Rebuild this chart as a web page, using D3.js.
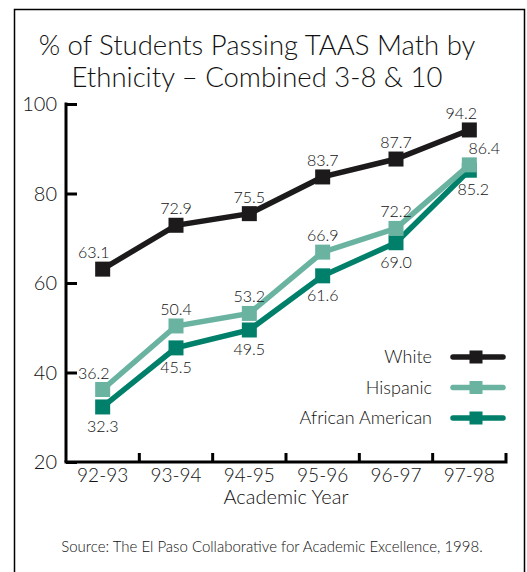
<!DOCTYPE html>
<html><head><meta charset="utf-8">
<script src="https://cdn.jsdelivr.net/npm/d3@7"></script>
<style>
html,body{margin:0;padding:0;background:#fff;}
text{font-family:"Lato","Open Sans",sans-serif;font-weight:300;}
</style></head>
<body>
<script>
const years = ["92-93","93-94","94-95","95-96","96-97","97-98"];
const white = [63.1,72.9,75.5,83.7,87.7,94.2];
const hispanic = [36.2,50.4,53.2,66.9,72.2,86.4];
const africanAmerican = [32.3,45.5,49.5,61.6,69.0,85.2];
const yTicks = [20,40,60,80,100];
const seriesNames = ["White","Hispanic","African American"];
const seriesColors = ["#1c1a1a","#6bb3a1","#00806a"];

const W=527,H=572;
const svg=d3.select("body").append("svg").attr("width",W).attr("height",H);

// frame
svg.append("path").attr("d","M14.5,"+(H+2)+"V9.5H524.5V"+(H+2)).attr("fill","none").attr("stroke","#000").attr("stroke-width",1.5);

// title
svg.append("text").attr("x",257).attr("y",55).attr("text-anchor","middle").attr("font-size",27.5).attr("fill","#111").text("% of Students Passing TAAS Math by");
svg.append("text").attr("x",257).attr("y",87).attr("text-anchor","middle").attr("font-size",27.5).attr("fill","#111").text("Ethnicity \u2013 Combined 3-8 & 10");

const x0=66,x1=506,yTop=104,yBot=462;
const x=d3.scaleBand().domain(years).range([x0,x1]);
const y=d3.scaleLinear().domain([20,100]).range([yBot,yTop]);
const cx=d=>x(d)+x.bandwidth()/2;

// y axis
const yAx=svg.append("g").attr("transform","translate("+x0+",0)")
  .call(d3.axisRight(y).tickValues(yTicks).tickSize(11).tickFormat(""));
yAx.select(".domain").attr("stroke","#000").attr("stroke-width",3).attr("d","M0,"+yBot+"V"+(yTop-1.5));
yAx.selectAll(".tick line").attr("stroke","#000").attr("stroke-width",3);
svg.selectAll(".ylab").data(yTicks).enter().append("text")
  .attr("x",57).attr("y",d=>y(d)+7).attr("text-anchor","end").attr("font-size",20).attr("fill","#111").text(d=>d);

// x axis
const xAx=svg.append("g").attr("transform","translate(0,"+yBot+")")
  .call(d3.axisTop(x).tickSize(0).tickFormat(""));
xAx.select(".domain").attr("stroke","#000").attr("stroke-width",3).attr("d","M"+(x0-1.5)+",0H"+x1+"V-9");
xAx.selectAll(".tick line").remove();
years.slice(1).forEach(d=>{
  svg.append("line").attr("x1",x(d)).attr("x2",x(d)).attr("y1",yBot).attr("y2",yBot-9).attr("stroke","#000").attr("stroke-width",3);
});
svg.selectAll(".xlab").data(years).enter().append("text")
  .attr("x",d=>cx(d)).attr("y",482).attr("text-anchor","middle").attr("font-size",19).attr("fill","#111").text(d=>d);
svg.append("text").attr("x",286).attr("y",504).attr("text-anchor","middle").attr("font-size",20).attr("fill","#111").text("Academic Year");
svg.append("text").attr("x",272).attr("y",552).attr("text-anchor","middle").attr("font-size",15).attr("fill","#111").text("Source: The El Paso Collaborative for Academic Excellence, 1998.");

const series=[white,hispanic,africanAmerican];
const line=d3.line().x((d,i)=>cx(years[i])).y(d=>y(d));
const ms=15;
[2,1,0].forEach(s=>{
  const vals=series[s];
  svg.append("path").attr("d",line(vals)).attr("fill","none").attr("stroke",seriesColors[s]).attr("stroke-width",5.5).attr("stroke-linejoin","miter");
  svg.selectAll(null).data(vals).enter().append("rect")
    .attr("x",(d,i)=>cx(years[i])-ms/2).attr("y",d=>y(d)-ms/2).attr("width",ms).attr("height",ms).attr("fill",seriesColors[s]);
});
const fmt=d3.format(".1f");
function lab(vals,pos){
  vals.forEach((v,i)=>{
    let dx=0, dy = pos==="above" ? -11 : 25;
    if(i===0 && pos==="above") dx=-9;
    if(i===vals.length-1) dx= pos==="above" ? (vals===white?-8:15) : 4;
    svg.append("text").attr("x",cx(years[i])+dx).attr("y",y(v)+dy).attr("text-anchor","middle")
      .attr("font-size",16).attr("fill","#111").text(fmt(v));
  });
}
lab(white,"above"); lab(hispanic,"above"); lab(africanAmerican,"below");

seriesNames.forEach((n,i)=>{
  const ly=357+i*30.5;
  svg.append("text").attr("x",432).attr("y",ly+6).attr("text-anchor","end").attr("font-size",18).attr("fill","#111").text(n);
  svg.append("line").attr("x1",453).attr("x2",503).attr("y1",ly).attr("y2",ly).attr("stroke",seriesColors[i]).attr("stroke-width",5.5).attr("stroke-linecap","round");
  svg.append("rect").attr("x",476-ms/2+1).attr("y",ly-ms/2+1).attr("width",ms-2).attr("height",ms-2).attr("fill",seriesColors[i]);
});
</script>
</body></html>
